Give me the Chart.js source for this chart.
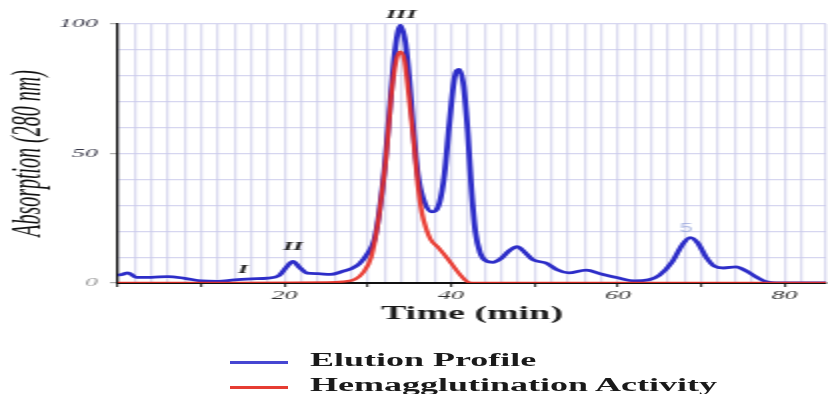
<!DOCTYPE html>
<html>
<head>
<meta charset="utf-8">
<script src="https://cdn.jsdelivr.net/npm/chart.js@4.4.1/dist/chart.umd.min.js"></script>
<style>
  body { margin: 0; background: #fff; overflow: hidden; }
  /* the source figure is stretched sideways, so the whole page is drawn at half width and scaled */
  #wrap { position: relative; width: 414px; height: 394px; transform: scaleX(2); transform-origin: 0 0; }
  #legend { position: absolute; left: 0; top: 0; font-family: "Liberation Serif", serif; font-weight: bold; font-size: 18px; color: #1a1a1a; }
  .swatch { position: absolute; left: 115px; width: 29px; height: 3px; }
  .label { position: absolute; left: 155px; white-space: nowrap; line-height: 20px; }
</style>
</head>
<body>
<div id="wrap">
  <canvas id="elutionChart" width="414" height="330"></canvas>
  <div id="legend">
    <div class="swatch" style="top:361px;background:rgb(70,70,210)"></div>
    <div class="label" style="top:350px">Elution Profile</div>
    <div class="swatch" style="top:386px;background:rgb(230,60,50)"></div>
    <div class="label" style="top:375px">Hemagglutination Activity</div>
  </div>
</div>
<script>
// ---------------- DATA ----------------
const elutionTime = [0, 0.5, 1.2, 2.2, 4, 6, 8, 10, 12, 14, 16, 18, 19.3, 20.2, 21, 21.8, 22.7, 24, 25.5, 27, 28, 29, 30,
  30.8, 31.4, 32, 32.6, 33.2, 33.9, 34.5, 35, 35.5, 36, 36.6, 37.7, 38.6, 39.2, 39.8, 40.4, 41, 41.5, 42, 42.4, 42.9,
  43.5, 44.2, 45, 46, 47, 47.9, 48.8, 49.8, 51.4, 52.8, 54.1, 56.2, 58, 60, 62, 63.7, 65, 66.5, 67.8, 68.7, 69.6,
  70.6, 71.6, 72.7, 74.2, 75.5, 76.8, 77.8, 79, 85];
const elutionValue = [3, 3.3, 3.9, 2.2, 2.2, 2.5, 1.8, 0.8, 0.6, 1.2, 1.6, 1.9, 2.8, 6, 8.3, 6, 3.8, 3.6, 3.3, 4.5, 5.5, 7.5, 11.5,
  17, 28, 44, 66, 88, 99.5, 93, 78, 58, 42, 33, 27.5, 31, 42, 62, 79, 82.5, 76, 58, 38, 20,
  11.5, 8.5, 8, 9.5, 12.5, 14, 12, 9, 7.7, 5, 3.9, 5, 3.5, 2, 0.8, 1.2, 3, 8, 15, 17.5, 15.5,
  10, 6.5, 5.8, 6.2, 4.5, 2, 0.5, 0, 0];

const haTime = [0, 25, 27, 28.5, 29.4, 30.4, 31.2, 31.7, 32.2, 32.8, 33.4, 33.9, 34.4, 35, 35.5, 36, 36.5, 37, 37.5,
  38.5, 39.7, 40.5, 41, 41.8, 42.5, 85];
const haValue = [0, 0.2, 0.5, 1.5, 3.9, 10, 23, 35, 49, 72, 86, 89.3, 86, 70, 55, 38, 27, 21, 17,
  13.5, 8.9, 5.5, 3.5, 0.8, 0, 0];

const peakLabels = ["I", "II", "III", "5"];
const peakTimes = [15, 21, 34, 68.2];
const peakHeights = [5, 14, 103.5, 21];

// ---------------- PEAK LABEL PLUGIN ----------------
const peakLabelPlugin = {
    id: "peakLabels",
    afterDatasetsDraw(chart) {
        const ctx = chart.ctx;
        const x = chart.scales.x;
        const y = chart.scales.y;
        ctx.save();
        ctx.textAlign = "center";
        ctx.textBaseline = "middle";
        peakLabels.forEach((txt, i) => {
            const faint = txt === "5";
            ctx.font = faint ? "12px 'Liberation Sans'" : "italic bold 13px 'Liberation Serif'";
            ctx.fillStyle = faint ? "rgba(120,140,210,0.55)" : "#222";
            ctx.fillText(txt, x.getPixelForValue(peakTimes[i]), y.getPixelForValue(peakHeights[i]));
        });
        ctx.restore();
    }
};

// ===================== ELUTION CHART =====================
new Chart(document.getElementById("elutionChart"), {
    type: "line",
    data: {
        datasets: [{
            label: "Hemagglutination Activity",
            data: haTime.map((t, i) => ({ x: t, y: haValue[i] })),
            borderColor: "rgba(232,45,35,0.9)",
            borderWidth: 2.4,
            pointRadius: 0,
            cubicInterpolationMode: "monotone",
            order: 0
        }, {
            label: "Elution Profile",
            data: elutionTime.map((t, i) => ({ x: t, y: elutionValue[i] })),
            borderColor: "rgb(45,45,200)",
            borderWidth: 2.8,
            pointRadius: 0,
            cubicInterpolationMode: "monotone",
            order: 1
        }]
    },
    options: {
        responsive: false,
        animation: false,
        layout: { padding: { top: 24, left: 0, right: 0, bottom: 0 } },
        plugins: { legend: { display: false }, tooltip: { enabled: false } },
        scales: {
            x: {
                type: "linear",
                min: 0,
                max: 85,
                afterFit: (scale) => { scale.height = 47; },
                border: { color: "#111", width: 2 },
                grid: {
                    color: "rgba(190,190,228,0.55)",
                    lineWidth: 1.3,
                    tickLength: 4,
                    tickWidth: 1,
                    tickColor: (c) => (c.tick && c.tick.value % 10 === 0 ? "#222" : "transparent")
                },
                ticks: {
                    stepSize: 2,
                    autoSkip: false,
                    maxRotation: 0,
                    minRotation: 0,
                    padding: 1,
                    color: "#333",
                    font: { family: "Liberation Serif", style: "italic", size: 13 },
                    callback: (v) => (v > 0 && v % 20 === 0 ? v : "")
                },
                title: {
                    display: true,
                    text: "Time (min)",
                    color: "#1a1a1a",
                    font: { family: "Liberation Serif", weight: "bold", size: 19 },
                    padding: { top: 0, bottom: 5 }
                }
            },
            y: {
                min: 0,
                max: 100,
                afterFit: (scale) => { scale.width = 59; },
                border: { color: "#111", width: 1.3 },
                grid: {
                    color: (c) => (c.tick && c.tick.value === 0 ? "transparent" : "rgba(200,200,235,0.75)"),
                    lineWidth: 1.2,
                    tickLength: 4,
                    tickColor: (c) => (c.tick && c.tick.value % 50 === 0 ? "#aaa" : "transparent")
                },
                ticks: {
                    stepSize: 10,
                    padding: 6,
                    color: (c) => (c.tick && c.tick.value === 0 ? "#999" : "#3a3a4a"),
                    font: { family: "Liberation Serif", style: "italic", size: 13 },
                    callback: (v) => (v % 50 === 0 ? v : "")
                },
                title: {
                    display: true,
                    text: "Absorption (280 nm)",
                    color: "#111",
                    font: { family: "Liberation Serif", style: "italic", size: 20 },
                    padding: { top: 3, bottom: 0 }
                }
            }
        }
    },
    plugins: [peakLabelPlugin]
});
</script>
</body>
</html>
